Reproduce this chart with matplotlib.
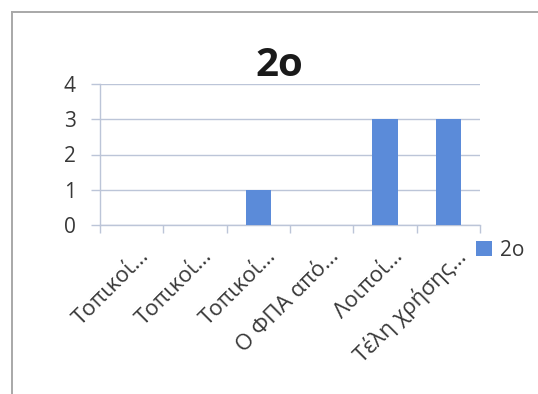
"""
Bar chart '2o' with rotated greek category labels
"""

import numpy as np
import matplotlib
matplotlib.use("Agg")
import matplotlib.pyplot as plt
from matplotlib.lines import Line2D
from matplotlib.transforms import ScaledTranslation

plt.rcParams['font.family'] = ['Open Sans', 'DejaVu Sans']

categories = ['Τοπικοί…', 'Τοπικοί…', 'Τοπικοί…', 'Ο ΦΠΑ από…', 'Λοιποί…', 'Τέλη χρήσης…']
values = [0, 0, 1, 0, 3, 3]
series_name = '2o'
y_ticks = [0, 1, 2, 3, 4]

bar_color = '#5b8bd9'
grid_color = '#bcc5d8'
text_color = '#383838'

W, H = 538, 394
fig = plt.figure(figsize=(W / 100, H / 100), dpi=100)

# outer chart frame (only top and left edges are visible in the crop)
fig.add_artist(Line2D([12 / W, 12 / W], [0, 1 - 12 / H], color='#a8a8a8', lw=1.4))
fig.add_artist(Line2D([12 / W, 1], [1 - 12 / H, 1 - 12 / H], color='#a8a8a8', lw=1.4))

ax = fig.add_axes([100 / W, 1 - 225 / H, 380 / W, 141 / H])
x = np.arange(len(categories))
ax.bar(x, values, width=0.4, color=bar_color, label=series_name, zorder=3)

ax.set_xlim(-0.5, len(categories) - 0.5)
ax.set_ylim(0, 4)
ax.set_yticks(y_ticks)
ax.grid(axis='y', color=grid_color, lw=1.0, zorder=0)

for s in ['top', 'right']:
    ax.spines[s].set_visible(False)
for s in ['left', 'bottom']:
    ax.spines[s].set_color(grid_color)
    ax.spines[s].set_linewidth(1.0)

ax.tick_params(axis='y', length=6.5, width=1.0, color=grid_color, pad=11,
               labelsize=15, labelcolor=text_color)

# category boundary ticks on minor, labels on major
ax.set_xticks(np.arange(-0.5, len(categories), 1.0), minor=True)
ax.set_xticks(x)
ax.set_xticklabels(categories, rotation=45, ha='right', va='top',
                   rotation_mode='anchor')
ax.tick_params(axis='x', which='minor', length=6, width=1.0, color=grid_color)
ax.tick_params(axis='x', which='major', length=0, pad=15,
               labelsize=16, labelcolor=text_color)
offset = ScaledTranslation(7 / 100, 0, fig.dpi_scale_trans)
for lab in ax.get_xticklabels():
    lab.set_transform(lab.get_transform() + offset)

fig.text(279 / W, 1 - 66 / H, '2o', ha='center', va='center',
         fontsize=29, fontweight='bold', color='#1a1a1a')

fig.legend(loc='center left', bbox_to_anchor=(468 / W, 1 - 250 / H),
           frameon=False, fontsize=15, handlelength=0.75, handleheight=0.75,
           handletextpad=0.4, labelcolor=text_color, borderaxespad=0)

fig.savefig('out.png', dpi=100)
